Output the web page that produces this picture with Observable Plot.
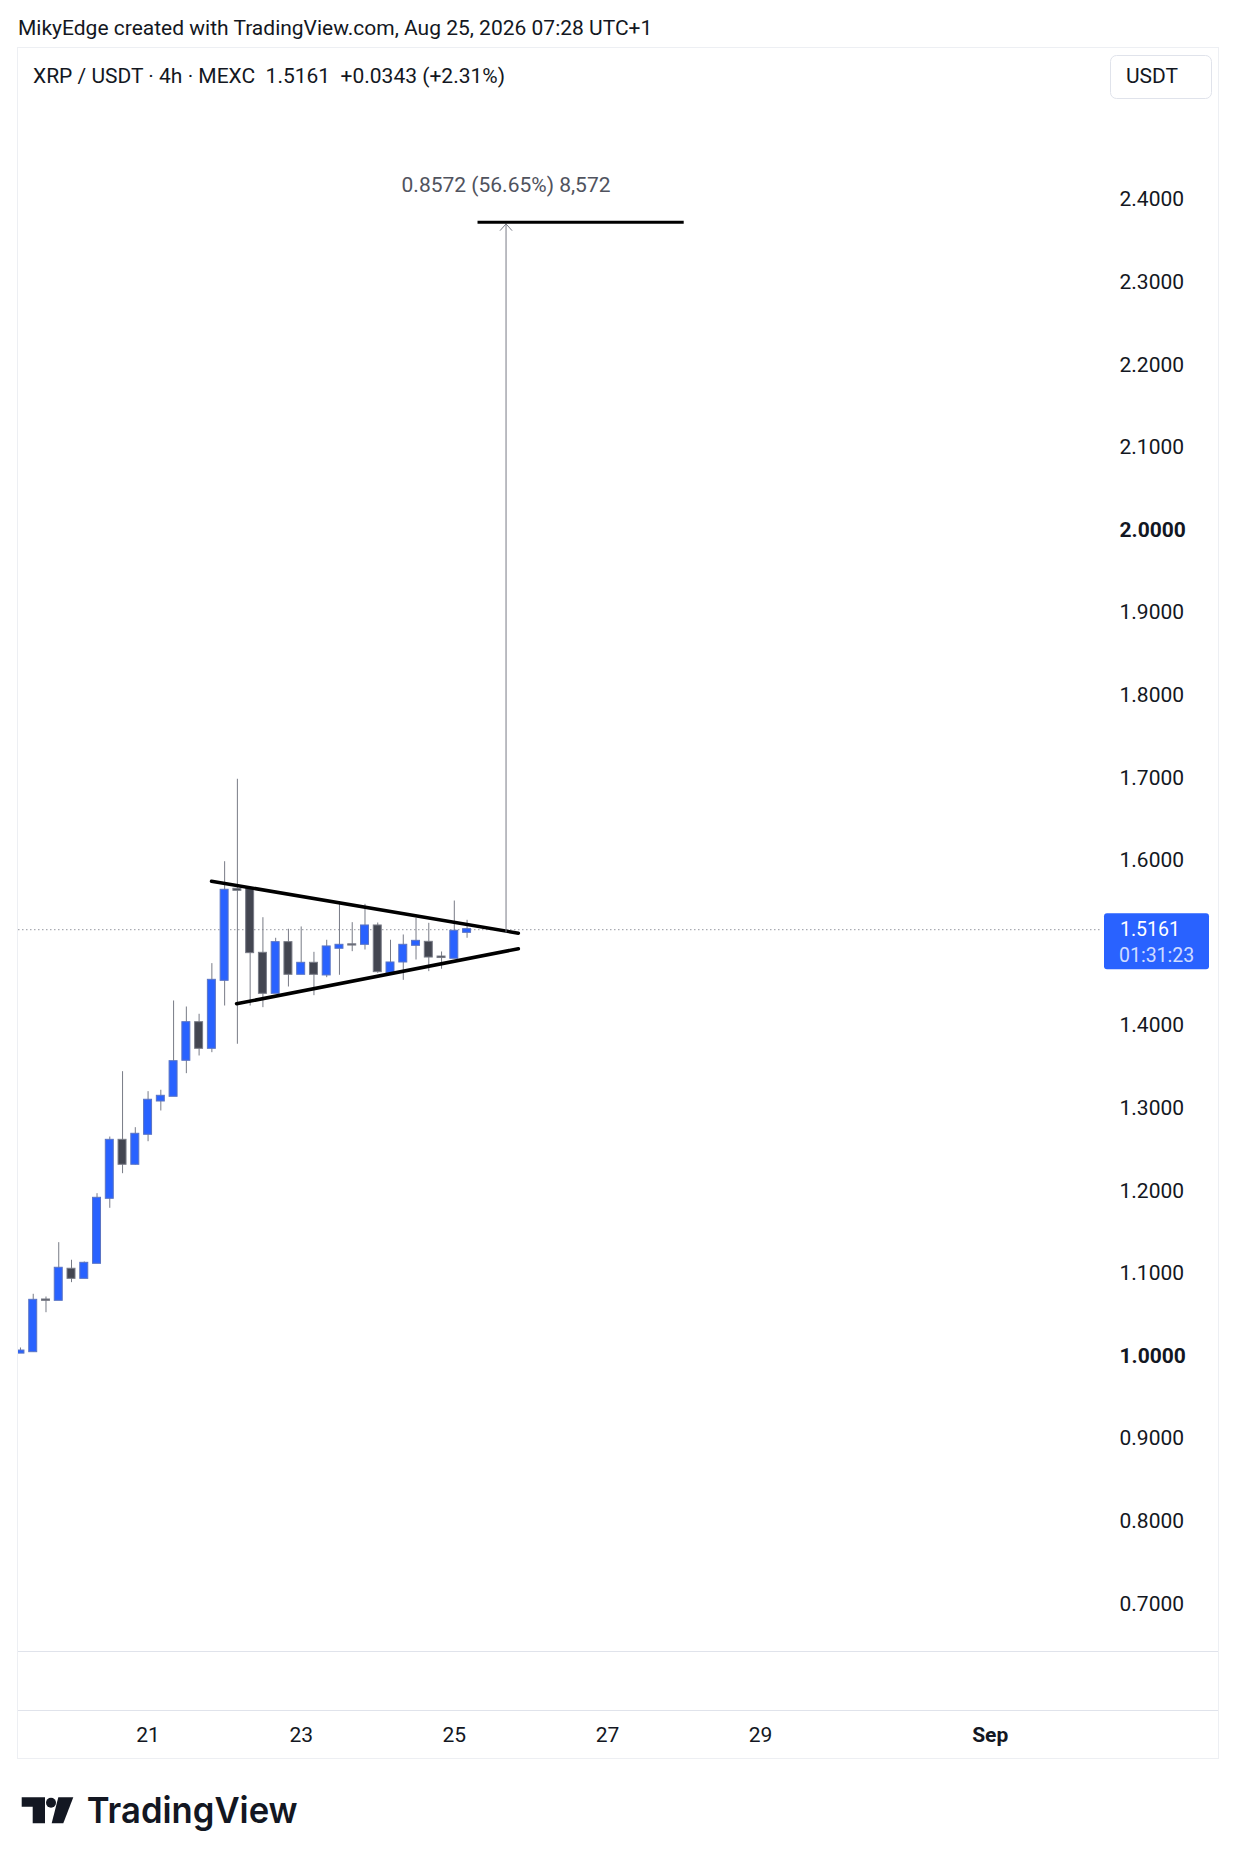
<!DOCTYPE html>
<html>
<head>
<meta charset="utf-8">
<script src="https://cdn.jsdelivr.net/npm/d3@7"></script>
<script src="https://cdn.jsdelivr.net/npm/@observablehq/plot@0.6"></script>
<style>
html,body{margin:0;padding:0;background:#fff;}
body{width:1236px;height:1864px;position:relative;overflow:hidden;font-family:Roboto,"Noto Sans",sans-serif;color:#131722;}
#frame{position:absolute;left:17px;top:47px;width:1202px;height:1712px;border:1px solid #EDEFF3;box-sizing:border-box;}
.sep{position:absolute;left:18px;width:1200px;height:1px;background:#E0E3EB;}
#chart{position:absolute;left:0;top:48px;}
#overlay{position:absolute;left:0;top:0;pointer-events:none;}
</style>
</head>
<body>
<div id="frame"></div>
<div class="sep" style="top:1651px"></div>
<div class="sep" style="top:1710px"></div>
<div id="chart"></div>
<script>
// ---- data (times are wall-clock UTC+1, stored as UTC strings) ----
const candleTimes = [
  "2026-08-19T09:00Z","2026-08-19T13:00Z","2026-08-19T17:00Z","2026-08-19T21:00Z",
  "2026-08-20T01:00Z","2026-08-20T05:00Z","2026-08-20T09:00Z","2026-08-20T13:00Z","2026-08-20T17:00Z","2026-08-20T21:00Z",
  "2026-08-21T01:00Z","2026-08-21T05:00Z","2026-08-21T09:00Z","2026-08-21T13:00Z","2026-08-21T17:00Z","2026-08-21T21:00Z",
  "2026-08-22T01:00Z","2026-08-22T05:00Z","2026-08-22T09:00Z","2026-08-22T13:00Z","2026-08-22T17:00Z","2026-08-22T21:00Z",
  "2026-08-23T01:00Z","2026-08-23T05:00Z","2026-08-23T09:00Z","2026-08-23T13:00Z","2026-08-23T17:00Z","2026-08-23T21:00Z",
  "2026-08-24T01:00Z","2026-08-24T05:00Z","2026-08-24T09:00Z","2026-08-24T13:00Z","2026-08-24T17:00Z","2026-08-24T21:00Z",
  "2026-08-25T01:00Z","2026-08-25T05:00Z"
];
const opens  = [1.0035,1.0052,1.0678,1.0674,1.1050,1.0940,1.1122,1.1909,1.2611,1.2321,1.2684,1.3087,1.3144,1.3580,1.4035,1.3725,1.4548,1.5650,1.5650,1.4875,1.4391,1.5004,1.4621,1.4754,1.4613,1.4936,1.4978,1.4984,1.5206,1.4640,1.4770,1.4972,1.5008,1.4830,1.4815,1.5129];
const highs  = [1.0097,1.0747,1.0714,1.1372,1.1159,1.1138,1.1965,1.2651,1.3442,1.2764,1.3200,1.3217,1.4298,1.4225,1.4137,1.4750,1.5984,1.6982,1.5660,1.5306,1.5057,1.5166,1.5194,1.4887,1.5033,1.5500,1.5246,1.5468,1.5242,1.5033,1.5097,1.5299,1.5238,1.4891,1.5508,1.5275];
const lows   = [1.0030,1.0045,1.0524,1.0674,1.0888,1.0940,1.1122,1.1788,1.2207,1.2312,1.2594,1.2966,1.3144,1.3418,1.3632,1.3672,1.4237,1.3774,1.4237,1.4217,1.4391,1.4467,1.4621,1.4362,1.4580,1.4609,1.4895,1.4915,1.4633,1.4640,1.4548,1.4794,1.4653,1.4682,1.4815,1.5057];
const closes = [1.0060,1.0674,1.0674,1.1062,1.0940,1.1122,1.1909,1.2611,1.2321,1.2684,1.3096,1.3144,1.3563,1.4035,1.3725,1.4548,1.5638,1.5638,1.4883,1.4391,1.5004,1.4621,1.4754,1.4621,1.4952,1.4972,1.4975,1.5206,1.4653,1.4758,1.4972,1.5020,1.4830,1.4824,1.5142,1.5161];

const lastPrice = 1.5161;
const countdown = "01:31:23";
// 1.5000 is hidden behind the last-price label in the reference
const priceTicks = [0.7,0.8,0.9,1.0,1.1,1.2,1.3,1.4,1.6,1.7,1.8,1.9,2.0,2.1,2.2,2.3,2.4];
const boldPriceTicks = [1.0, 2.0];
const dayTicks = ["2026-08-21T01:00Z","2026-08-23T01:00Z","2026-08-25T01:00Z","2026-08-27T01:00Z","2026-08-29T01:00Z"];
const dayLabels = ["21","23","25","27","29"];
const monthTicks = ["2026-09-01T01:00Z"];
const monthLabels = ["Sep"];

// drawings (time, price)
const triangleUpper = [{t:"2026-08-21T20:53Z", p:1.5748},{t:"2026-08-25T21:05Z", p:1.5119}];
const triangleLower = [{t:"2026-08-22T04:44Z", p:1.4264},{t:"2026-08-25T21:05Z", p:1.4930}];
const measure = [{t:"2026-08-25T17:13Z", from:1.5133, to:2.3705, label:"0.8572 (56.65%) 8,572"}];
const targetLine = [{t1:"2026-08-25T08:26Z", t2:"2026-08-28T01:04Z", p:2.3726}];

const headerText = "MikyEdge created with TradingView.com, Aug 25, 2026 07:28 UTC+1";
const legendText = "XRP / USDT · 4h · MEXC  1.5161  +0.0343 (+2.31%)";
const currencyText = "USDT";

// view window
const xDomain = [new Date("2026-08-19T08:23Z"), new Date("2026-09-02T11:34Z")];
const yDomain = [0.6414, 2.5829];

// ---- build ----
const candles = candleTimes.map((t,i)=>({t:new Date(t), o:opens[i], h:highs[i], l:lows[i], c:closes[i]}));
const half = 1.25*3600e3;
const bx1 = d => new Date(+d.t - half), bx2 = d => new Date(+d.t + half);
const tri = a => a.map(d=>({t:new Date(d.t), p:d.p}));
const meas = measure.map(d=>({...d, t:new Date(d.t)}));
const tl = targetLine.map(d=>({t1:new Date(d.t1), t2:new Date(d.t2), p:d.p}));

const UP = "#2962FF", DOWN = "#434651", WICK = "#787B86";

const chart = Plot.plot({
  width: 1236, height: 1710,
  marginLeft: 18, marginRight: 136, marginTop: 0, marginBottom: 106.3,
  x: {type: "utc", domain: xDomain, axis: null},
  y: {domain: yDomain, axis: null},
  style: {fontFamily: "Roboto, 'Noto Sans', sans-serif", fontSize: "21px", color: "#131722", background: "transparent", overflow: "visible"},
  marks: [
    Plot.ruleY([lastPrice], {stroke: "#9598A1", strokeWidth: 1, strokeDasharray: "1.5,2.5"}),
    Plot.ruleX(candles, {x: "t", y1: "l", y2: "h", stroke: WICK, strokeWidth: 1, clip: true}),
    Plot.rect(candles, {filter: d => d.c >= d.o, x1: bx1, x2: bx2, y1: "o", y2: "c", fill: UP, stroke: "#5a74c4", strokeWidth: 1, insetTop: -0.5, insetBottom: -0.5, clip: true}),
    Plot.rect(candles, {filter: d => d.c < d.o, x1: bx1, x2: bx2, y1: "o", y2: "c", fill: DOWN, stroke: WICK, strokeWidth: 1, insetTop: -0.5, insetBottom: -0.5, clip: true}),
    Plot.line(tri(triangleUpper), {x: "t", y: "p", stroke: "#000", strokeWidth: 3.5}),
    Plot.line(tri(triangleLower), {x: "t", y: "p", stroke: "#000", strokeWidth: 3.5}),
    Plot.arrow(meas, {x: "t", y1: "from", y2: "to", stroke: WICK, strokeWidth: 1, headLength: 13, headAngle: 84}),
    Plot.ruleY(tl, {y: "p", x1: "t1", x2: "t2", stroke: "#000", strokeWidth: 3}),
    Plot.text(meas, {x: "t", y: "to", text: "label", dy: -39, fill: "#50535E", fontSize: 21, lineAnchor: "middle"}),
    Plot.axisY(priceTicks.filter(v => !boldPriceTicks.includes(v)), {anchor: "right", tickSize: 0, tickPadding: 19, tickFormat: d => d.toFixed(4), label: null, fill: "#131722"}),
    Plot.axisY(boldPriceTicks, {anchor: "right", tickSize: 0, tickPadding: 19, tickFormat: d => d.toFixed(4), label: null, fontWeight: "bold", fill: "#131722"}),
    Plot.axisX(dayTicks.map(d => new Date(d)), {anchor: "bottom", tickSize: 0, tickPadding: 75, tickFormat: d => dayLabels[dayTicks.findIndex(s => +new Date(s) === +d)], label: null, fill: "#131722"}),
    Plot.axisX(monthTicks.map(d => new Date(d)), {anchor: "bottom", tickSize: 0, tickPadding: 75, tickFormat: (d) => monthLabels[0], label: null, fontWeight: "bold", fill: "#131722"})
  ]
});
document.getElementById("chart").append(chart);

// ---- overlay: header, legend, currency button, price label, logo ----
const yS = chart.scale("y");
const py = yS.apply(lastPrice) + 48;
const ov = d3.select("body").append("svg").attr("id","overlay").attr("width",1236).attr("height",1864)
  .style("font-family","Roboto, 'Noto Sans', sans-serif");
ov.append("text").attr("x",18).attr("y",35).attr("font-size",21).attr("fill","#131722").text(headerText);
ov.append("text").attr("x",33).attr("y",83.3).attr("font-size",21).attr("fill","#131722").style("white-space","pre").text(legendText);
ov.append("rect").attr("x",1110.5).attr("y",55.5).attr("width",101).attr("height",43).attr("rx",6)
  .attr("fill","#fff").attr("stroke","#E0E3EB");
ov.append("text").attr("x",1152).attr("y",83.3).attr("font-size",21).attr("text-anchor","middle").attr("fill","#131722").text(currencyText);
ov.append("rect").attr("x",1104).attr("y",py-16).attr("width",105).attr("height",56).attr("rx",3).attr("fill","#2962FF");
ov.append("text").attr("x",1120).attr("y",py+6.5).attr("font-size",19.5).attr("fill","#fff").text(lastPrice.toFixed(4));
ov.append("text").attr("x",1119).attr("y",py+32.5).attr("font-size",19.5).attr("fill","#fff").attr("fill-opacity",0.78).text(countdown);
// logo
const lg = ov.append("g").attr("fill","#131722");
lg.append("path").attr("d","M21.7 1797.3 H45 V1823.3 H32.7 V1806.7 H21.7 Z");
lg.append("circle").attr("cx",51).attr("cy",1802.7).attr("r",5);
lg.append("path").attr("d","M58.3 1797.3 H73.3 L63.3 1823.3 H51.7 Z");
lg.append("text").attr("x",86.7).attr("y",1823.3).attr("font-family","Inter, Roboto, sans-serif").attr("font-weight",600)
  .attr("font-size",36).attr("textLength",211).attr("lengthAdjust","spacingAndGlyphs").text("TradingView");
</script>
</body>
</html>
